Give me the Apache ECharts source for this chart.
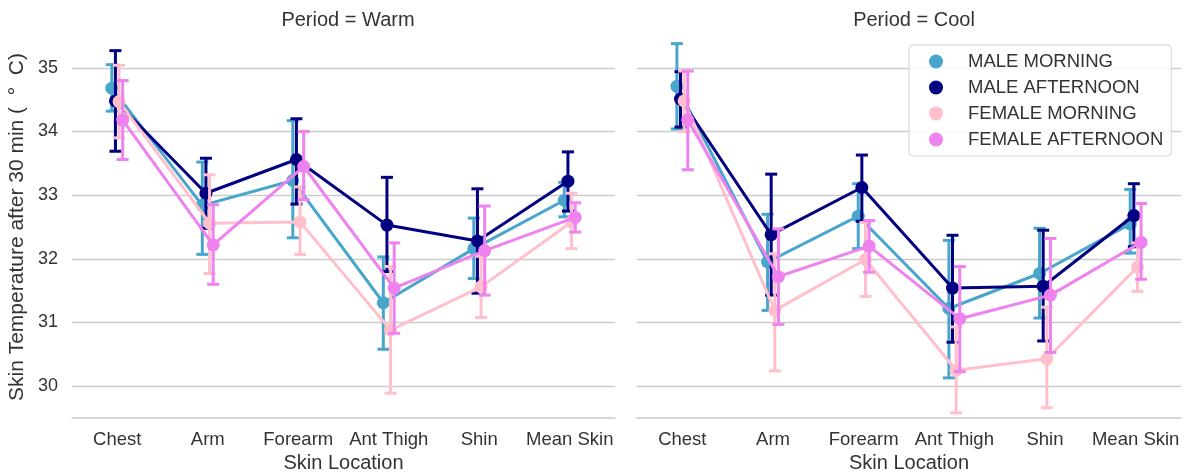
<!DOCTYPE html>
<html>
<head>
<meta charset="utf-8">
<title>Skin temperature</title>
<script src="https://cdn.jsdelivr.net/npm/echarts@6/dist/echarts.min.js"></script>
<style>
  html, body { margin: 0; height: 100%; background: #fff; }
  #main { width: 1184px; height: 476px; }
</style>
</head>
<body>
<div id="main"></div>
<script>
var categories = ['Chest', 'Arm', 'Forearm', 'Ant Thigh', 'Shin', 'Mean Skin'];
var groups = ['MALE MORNING', 'MALE AFTERNOON', 'FEMALE MORNING', 'FEMALE AFTERNOON'];
var yTicks = [30, 31, 32, 33, 34, 35];

// Period = Warm (one row per group)
var warmMean = [
  [34.68, 32.84, 33.23, 31.31, 32.16, 32.92],
  [34.48, 33.03, 33.56, 32.53, 32.28, 33.22],
  [34.47, 32.56, 32.58, 30.88, 31.56, 32.58],
  [34.18, 32.22, 33.45, 31.54, 32.13, 32.65]
];
var warmLow = [
  [34.32, 32.07, 32.33, 30.58, 31.69, 32.66],
  [33.69, 32.48, 32.86, 31.80, 31.46, 32.75],
  [33.90, 31.77, 32.07, 29.89, 31.08, 32.16],
  [33.56, 31.60, 32.93, 30.83, 31.43, 32.42]
];
var warmHigh = [
  [35.05, 33.52, 34.17, 32.03, 32.64, 33.20],
  [35.27, 33.58, 34.20, 33.28, 33.10, 33.68],
  [35.04, 33.32, 33.13, 31.88, 32.04, 33.03],
  [34.80, 32.85, 34.00, 32.25, 32.83, 32.88]
];

// Period = Cool
var coolMean = [
  [34.71, 31.95, 32.67, 31.22, 31.77, 32.55],
  [34.51, 32.38, 33.12, 31.54, 31.57, 32.68],
  [34.48, 31.19, 31.99, 30.25, 30.43, 31.87],
  [34.18, 31.72, 32.20, 31.06, 31.43, 32.26]
];
var coolLow = [
  [34.04, 31.19, 32.16, 30.13, 31.07, 32.09],
  [34.07, 31.43, 32.59, 30.69, 30.71, 32.19],
  [34.00, 30.24, 31.41, 29.58, 29.66, 31.49],
  [33.40, 30.97, 31.79, 30.23, 30.53, 31.68]
];
var coolHigh = [
  [35.38, 32.70, 33.18, 32.29, 32.48, 33.09],
  [34.94, 33.33, 33.63, 32.37, 32.45, 33.18],
  [34.95, 32.08, 32.57, 30.93, 31.24, 32.25],
  [34.95, 32.47, 32.60, 31.88, 32.32, 32.87]
];

var colors = ['#48a6cd', '#000080', '#ffc0cb', '#ee82ee'];
var font = 'Liberation Sans, Arial, sans-serif';
var dodge = 0.04;

var dom = document.getElementById('main');
var myChart = echarts.init(dom);

function errRender(color) {
  return function (params, api) {
    var x = api.value(0);
    var top = api.coord([x, api.value(3)]);
    var bot = api.coord([x, api.value(2)]);
    var w = 6;
    var st = { stroke: color, lineWidth: 3 };
    return {
      type: 'group',
      children: [
        { type: 'line', shape: { x1: top[0], y1: top[1], x2: bot[0], y2: bot[1] }, style: st },
        { type: 'line', shape: { x1: top[0] - w, y1: top[1], x2: top[0] + w, y2: top[1] }, style: st },
        { type: 'line', shape: { x1: bot[0] - w, y1: bot[1], x2: bot[0] + w, y2: bot[1] }, style: st }
      ]
    };
  };
}

var series = [];
function addPanel(mean, low, high, axisIdx) {
  for (var g = 0; g < groups.length; g++) {
    var off = (g - 1.5) * dodge;
    var pts = [], errs = [];
    for (var i = 0; i < categories.length; i++) {
      pts.push([i + off, mean[g][i]]);
      errs.push([i + off, mean[g][i], low[g][i], high[g][i]]);
    }
    series.push({
      type: 'custom',
      name: 'err' + axisIdx + g,
      xAxisIndex: axisIdx * 2 + 1,
      yAxisIndex: axisIdx,
      data: errs,
      encode: { x: 0, y: [2, 3] },
      renderItem: errRender(colors[g]),
      silent: true,
      z: 10 + g * 2
    });
    series.push({
      type: 'line',
      name: groups[g],
      xAxisIndex: axisIdx * 2 + 1,
      yAxisIndex: axisIdx,
      data: pts,
      symbol: 'circle',
      symbolSize: 13,
      color: colors[g],
      lineStyle: { width: 3, color: colors[g] },
      itemStyle: { color: colors[g] },
      silent: true,
      animation: false,
      z: 11 + g * 2
    });
  }
}
addPanel(warmMean, warmLow, warmHigh, 0);
addPanel(coolMean, coolLow, coolHigh, 1);

function catAxis(gridIdx) {
  return {
    type: 'category',
    gridIndex: gridIdx,
    data: categories,
    boundaryGap: true,
    name: 'Skin Location',
    nameLocation: 'middle',
    nameGap: 34,
    nameTextStyle: { fontSize: 20, color: '#333', fontFamily: font },
    axisLine: { lineStyle: { color: '#cccccc', width: 1.5 } },
    axisTick: { show: false },
    axisLabel: { interval: 0, fontSize: 18.5, color: '#333', fontFamily: font, margin: 12 }
  };
}
function valXAxis(gridIdx) {
  return { type: 'value', gridIndex: gridIdx, min: -0.5, max: 5.5, show: false };
}
function yAxis(gridIdx, showLabel) {
  return {
    type: 'value',
    gridIndex: gridIdx,
    min: 29.5,
    max: 35.5,
    name: showLabel ? 'Skin Temperature after 30 min (  \u00B0  C)' : '',
    nameLocation: 'middle',
    nameGap: 44,
    nameTextStyle: { fontSize: 21, color: '#333', fontFamily: font },
    axisLine: { show: false },
    axisTick: { show: false, customValues: yTicks },
    axisLabel: { show: showLabel, customValues: yTicks, fontSize: 18, color: '#333', fontFamily: font, margin: 14 },
    splitLine: { show: true, lineStyle: { color: '#cccccc', width: 1.3 } }
  };
}

var option = {
  animation: false,
  backgroundColor: '#fff',
  title: [
    { text: 'Period = Warm', left: 343, top: 5, textAlign: 'center',
      textStyle: { fontSize: 20, fontWeight: 'normal', color: '#333', fontFamily: font } },
    { text: 'Period = Cool', left: 909, top: 5, textAlign: 'center',
      textStyle: { fontSize: 20, fontWeight: 'normal', color: '#333', fontFamily: font } }
  ],
  legend: {
    data: groups.map(function (n) { return { name: n, icon: 'circle' }; }),
    orient: 'vertical',
    left: 909,
    top: 45,
    itemWidth: 14,
    itemHeight: 14,
    itemGap: 7,
    padding: [7, 8, 7, 20],
    borderColor: '#d4d4d4',
    borderWidth: 1,
    borderRadius: 4,
    backgroundColor: 'rgba(255,255,255,0.85)',
    textStyle: { fontSize: 18.5, color: '#333', fontFamily: font, padding: [0, 0, 0, 20] },
    selectedMode: false
  },
  grid: [
    { left: 72, right: 569, top: 36, bottom: 58, outerBoundsMode: 'none' },
    { left: 637, right: 3, top: 36, bottom: 58, outerBoundsMode: 'none' }
  ],
  xAxis: [catAxis(0), valXAxis(0), catAxis(1), valXAxis(1)],
  yAxis: [yAxis(0, true), yAxis(1, false)],
  series: series
};
myChart.setOption(option);
</script>
</body>
</html>
